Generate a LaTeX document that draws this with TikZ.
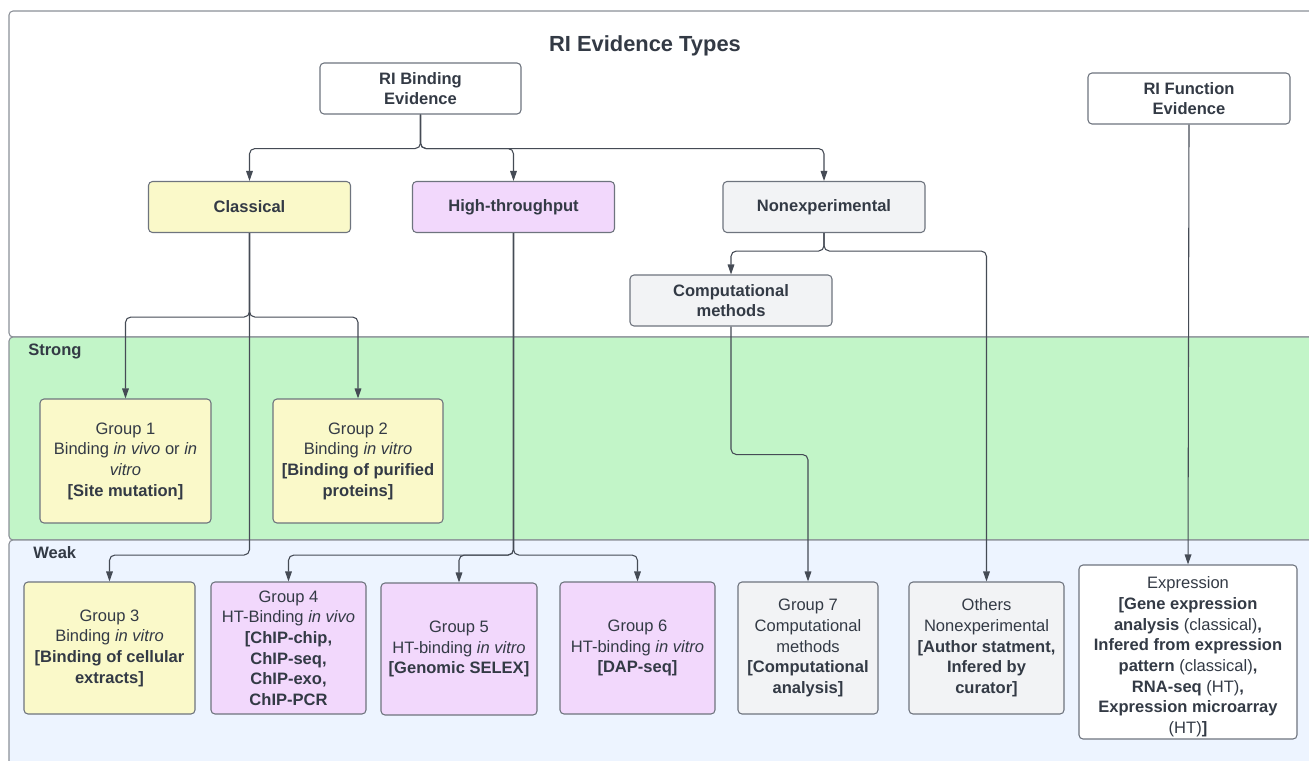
\documentclass[tikz,border=0pt]{standalone}
\usepackage{fontspec}
\setmainfont{Liberation Sans}
\usetikzlibrary{arrows.meta}
\definecolor{txt}{HTML}{333A45}
\definecolor{bordc}{HTML}{6E747E}
\definecolor{linec}{HTML}{454B55}
\definecolor{yelf}{HTML}{FAF9C9}
\definecolor{purf}{HTML}{F2D8FC}
\definecolor{grayf}{HTML}{F2F3F5}
\definecolor{greenb}{HTML}{C2F5C8}
\definecolor{blueb}{HTML}{EDF4FF}
\tikzset{
  box/.style={draw=bordc, line width=0.8pt, rounded corners=3pt, align=center, text=txt, inner sep=0pt,
    font=\fontsize{12.4}{15.5}\selectfont},
  sz/.style 2 args={minimum width=#1*0.75pt, minimum height=#2*0.75pt},
  arr/.style={draw=linec, line width=0.8pt, rounded corners=4pt, -{Triangle[length=7.5pt,width=5pt]}},
  band/.style={draw=bordc!80, line width=0.8pt, rounded corners=3pt},
  lbl/.style={text=txt, font=\fontsize{12.4}{15.5}\selectfont\bfseries, inner sep=0pt}
}
\begin{document}
\begin{tikzpicture}[x=0.75pt,y=-0.75pt]
\useasboundingbox (0,0) rectangle (1309,760);
\clip (0,0) rectangle (1309,760);
% frames and bands
\draw[band, fill=white] (9,11) rectangle (1330,337);
\draw[band, fill=greenb] (9,337) rectangle (1330,540);
\draw[band, fill=blueb] (9,540) rectangle (1330,790);
\node[lbl, anchor=west] (strong) at (28,351) {Strong};
\node[lbl, anchor=west] (weak) at (33,553) {Weak};
\node[text=txt, font=\fontsize{16.4}{19}\selectfont\bfseries] (title) at (645,45.5) {RI Evidence Types};
% top-level boxes
\node[box, sz={201}{51}, fill=white, font=\fontsize{12.4}{15.5}\selectfont\bfseries] (rib) at (420.5,88.5) {RI Binding\\Evidence};
\node[box, sz={202}{51}, fill=white, font=\fontsize{12.4}{15.5}\selectfont\bfseries] (rif) at (1189,98.5) {RI Function\\Evidence};
\node[box, sz={202}{51}, fill=yelf, font=\fontsize{12.4}{15.5}\selectfont\bfseries] (cls) at (249.5,207) {Classical};
\node[box, sz={202}{51}, fill=purf, font=\fontsize{12.4}{15.5}\selectfont\bfseries] (hth) at (513.5,207) {High-throughput};
\node[box, sz={202}{51}, fill=grayf, font=\fontsize{12.4}{15.5}\selectfont\bfseries] (nex) at (824,207) {Nonexperimental};
\node[box, sz={202}{51}, fill=grayf, font=\fontsize{12.4}{15.5}\selectfont\bfseries] (cmp) at (731,300.5) {Computational\\methods};
% groups
\node[box, sz={171}{124}, fill=yelf] (g1) at (125.5,461) {Group 1\\Binding \textit{in vivo} or \textit{in}\\\textit{vitro}\\\textbf{[Site mutation]}};
\node[box, sz={170}{124}, fill=yelf] (g2) at (358,461) {Group 2\\Binding \textit{in vitro}\\\textbf{[Binding of purified}\\\textbf{proteins]}};
\node[box, sz={171}{132}, fill=yelf] (g3) at (109.5,648) {Group 3\\Binding \textit{in vitro}\\\textbf{[Binding of cellular}\\\textbf{extracts]}};
\node[box, sz={155}{132}, fill=purf] (g4) at (288.5,648) {Group 4\\HT-Binding \textit{in vivo}\\\textbf{[ChIP-chip,}\\\textbf{ChIP-seq,}\\\textbf{ChIP-exo,}\\\textbf{ChIP-PCR}};
\node[box, sz={156}{132}, fill=purf] (g5) at (459,649) {Group 5\\HT-binding \textit{in vitro}\\\textbf{[Genomic SELEX]}};
\node[box, sz={155}{132}, fill=purf] (g6) at (637.5,648) {Group 6\\HT-binding \textit{in vitro}\\\textbf{[DAP-seq]}};
\node[box, sz={140}{132}, fill=grayf] (g7) at (808,648) {Group 7\\Computational\\methods\\\textbf{[Computational}\\\textbf{analysis]}};
\node[box, sz={155}{132}, fill=grayf] (oth) at (986.5,648) {Others\\Nonexperimental\\\textbf{[Author statment,}\\\textbf{Infered by}\\\textbf{curator]}};
\node[box, sz={218}{174}, fill=white] (exp) at (1188,652) {\rule{0pt}{16.5pt}Expression\\\textbf{[Gene expression}\\\textbf{analysis} (classical)\textbf{,}\\\textbf{Infered from expression}\\\textbf{pattern} (classical)\textbf{,}\\\textbf{RNA-seq} (HT)\textbf{,}\\\textbf{Expression microarray}\\(HT)\textbf{]}};
% connectors
\draw[arr] (rib.south) -- ++(0,34) -| (cls.north);
\draw[arr] (rib.south) -- ++(0,34) -| (hth.north);
\draw[arr] (rib.south) -- ++(0,34) -| (nex.north);
\draw[arr] (cls.south) -- ++(0,84) -| (g1.north);
\draw[arr] (cls.south) -- ++(0,84) -| (g2.north);
\draw[arr] (cls.south) -- ++(0,322) -| (g3.north);
\draw[arr] (hth.south) -- ++(0,322) -| (g4.north);
\draw[arr] (hth.south) -- ++(0,322) -| (g5.north);
\draw[arr] (hth.south) -- ++(0,322) -| (g6.north);
\draw[arr] (nex.south) -- ++(0,18) -| (cmp.north);
\draw[arr] (nex.south) -- ++(0,18) -| (oth.north);
\draw[arr] (cmp.south) -- ++(0,128) -| (g7.north);
\draw[arr] (rif.south) -- (exp.north);
\end{tikzpicture}
\end{document}
